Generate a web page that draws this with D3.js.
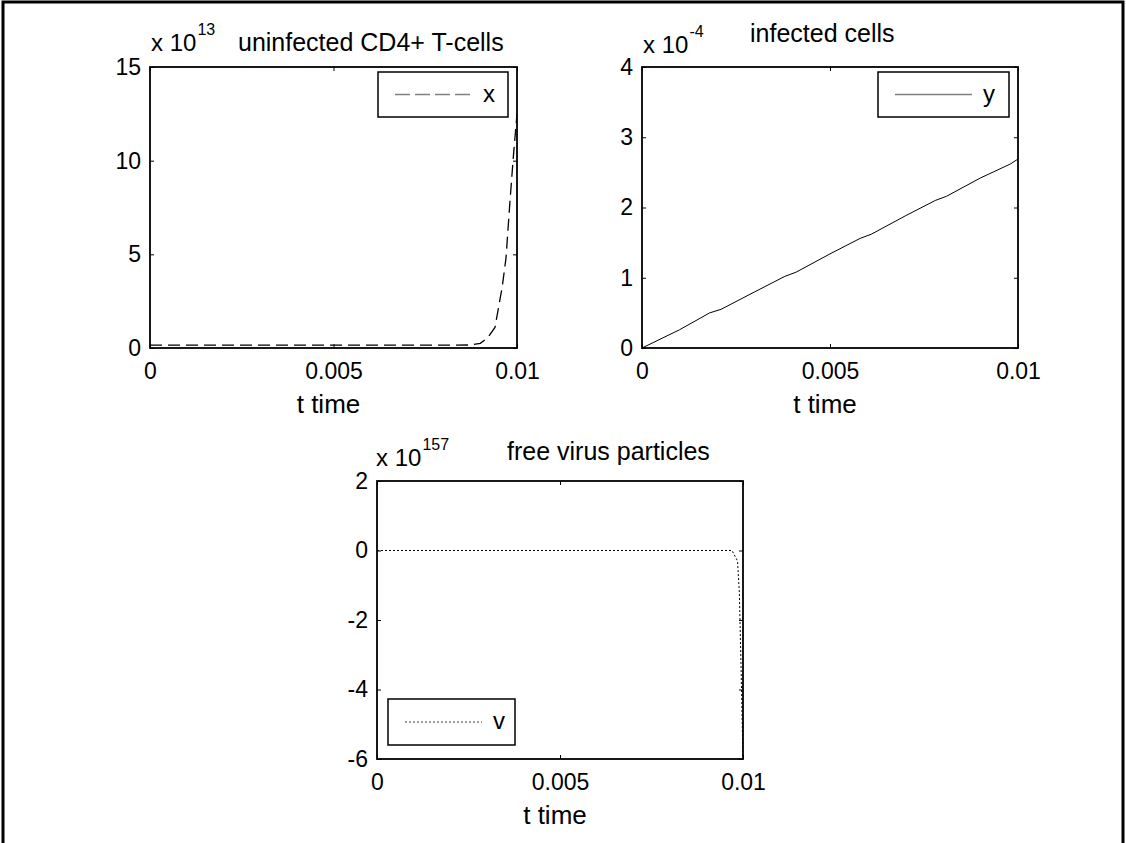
<html>
<head>
	<meta charset="utf-8">
	<title>HIV model</title>
	<script src="https://d3js.org/d3.v7.min.js"></script>
	<style type="text/css">
		body {
			margin: 0;
			padding: 0;
			background: #fff;
		}
		text {
			font-family: "Liberation Sans", Arial, sans-serif;
			fill: #000;
		}
	</style>
</head>
<body>

<svg id="fig" width="1126" height="843"></svg>

<script>

// time axis, shared by all three plots
var tTicks = [0, 0.005, 0.01];
var tTickLabels = ["0", "0.005", "0.01"];

// uninfected CD4+ T-cells (units of 10^13)
var xTicks = [0, 5, 10, 15];
var xT =    [0,   0.001, 0.002, 0.003, 0.004, 0.005, 0.006, 0.007, 0.008, 0.0087, 0.009, 0.0092, 0.0094, 0.0096, 0.0097, 0.0098, 0.0099, 0.01];
var xVals = [0.15, 0.15, 0.15,  0.15,  0.15,  0.15,  0.15,  0.15,  0.15,  0.16,   0.25,  0.55,   1.1,    3.3,    4.8,    7.6,    10.2,   12.5];

// infected cells (units of 10^-4)
var yTicks = [0, 1, 2, 3, 4];
var yT =    [0, 0.001, 0.0018, 0.0021, 0.003, 0.0038, 0.0041, 0.005, 0.0058, 0.0061, 0.007, 0.0078, 0.0081, 0.009, 0.0098, 0.01];
var yVals = [0, 0.26,  0.5,    0.55,   0.8,   1.02,   1.08,   1.34,  1.56,   1.62,   1.88,  2.1,    2.16,   2.42,  2.62,   2.69];

// free virus particles (units of 10^157)
var vTicks = [-6, -4, -2, 0, 2];
var vT =    [0, 0.002, 0.004, 0.006, 0.008, 0.0097, 0.00985, 0.0099, 0.00995, 0.01];
var vVals = [0, 0,     0,     0,     0,     0,      -0.3,    -1.2,   -3.5,    -6];

var svg = d3.select("#fig");

// outer figure frame (bottom is cut off in the original)
svg.append("path")
	.attr("d", "M3,843V2H1123V843")
	.attr("fill", "none")
	.attr("stroke", "#000")
	.attr("stroke-width", 3);

var panels = [
	{ l: 150, t: 67, r: 517, b: 348, ticks: xTicks, dom: [0, 15], tx: xT, vals: xVals,
	  dash: "12,6", title: "uninfected CD4+ T-cells", titleX: 238, titleY: 51,
	  expo: "13", expoX: 151, expoY: 51, name: "x",
	  leg: { x: 378, y: 72, w: 130, h: 45 } },
	{ l: 642, t: 67, r: 1018, b: 348, ticks: yTicks, dom: [0, 4], tx: yT, vals: yVals,
	  dash: null, title: "infected cells", titleX: 750, titleY: 42,
	  expo: "-4", expoX: 643, expoY: 53, name: "y",
	  leg: { x: 878, y: 72, w: 131, h: 45 } },
	{ l: 377, t: 481, r: 743, b: 759, ticks: vTicks, dom: [-6, 2], tx: vT, vals: vVals,
	  dash: "2,2", title: "free virus particles", titleX: 507, titleY: 460,
	  expo: "157", expoX: 376, expoY: 466, name: "v",
	  leg: { x: 388, y: 699, w: 127, h: 46 } }
];

panels.forEach(function(p) {
	var w = p.r - p.l, h = p.b - p.t;
	var x = d3.scaleLinear().domain([0, 0.01]).range([0, w]);
	var y = d3.scaleLinear().domain(p.dom).range([h, 0]);

	var g = svg.append("g").attr("transform", "translate(" + p.l + "," + p.t + ")");

	var clip = "clip-" + p.name;
	g.append("clipPath").attr("id", clip)
		.append("rect").attr("width", w).attr("height", h);

	// data line
	var line = d3.line()
		.x(function(d, i) { return x(p.tx[i]); })
		.y(function(d) { return y(d); });

	g.append("path")
		.datum(p.vals)
		.attr("d", line)
		.attr("clip-path", "url(#" + clip + ")")
		.attr("fill", "none")
		.attr("stroke", "#000")
		.attr("stroke-width", p.dash === "12,6" ? 1.3 : 1)
		.attr("stroke-dasharray", p.dash);

	// axes with inward ticks (matlab style, plain hyphen minus)
	var bottom = g.append("g").attr("transform", "translate(0," + h + ")")
		.call(d3.axisBottom(x).tickValues(tTicks)
			.tickFormat(function(d, i) { return tTickLabels[i]; })
			.tickSizeInner(-4).tickSizeOuter(0).tickPadding(15));
	var left = g.append("g")
		.call(d3.axisLeft(y).tickValues(p.ticks).tickFormat(function(d) { return String(d); })
			.tickSizeInner(-4).tickSizeOuter(0).tickPadding(9));
	var top = g.append("g")
		.call(d3.axisTop(x).tickValues(tTicks).tickFormat("")
			.tickSizeInner(-4).tickSizeOuter(0));
	var right = g.append("g").attr("transform", "translate(" + w + ",0)")
		.call(d3.axisRight(y).tickValues(p.ticks).tickFormat("")
			.tickSizeInner(-4).tickSizeOuter(0));

	[bottom, left, top, right].forEach(function(a) {
		a.select(".domain").remove();
		a.selectAll("line").attr("stroke", "#000");
		a.selectAll("text")
			.attr("fill", "#000")
			.style("font-family", "'Liberation Sans', Arial, sans-serif")
			.style("font-size", "23px");
	});

	// axes box
	g.append("rect")
		.attr("width", w).attr("height", h)
		.attr("fill", "none")
		.attr("stroke", "#000")
		.attr("stroke-width", 1.8);

	// x label
	g.append("text")
		.attr("x", w / 2 - 5).attr("y", h + 65)
		.attr("text-anchor", "middle")
		.style("font-size", "26px")
		.text("t time");

	// title
	svg.append("text")
		.attr("x", p.titleX).attr("y", p.titleY)
		.style("font-size", "25px")
		.text(p.title);

	// exponent label  x 10^n
	var ex = svg.append("text")
		.attr("x", p.expoX).attr("y", p.expoY)
		.style("font-size", "24px");
	ex.append("tspan").text("x 10");
	ex.append("tspan")
		.attr("dy", -16)
		.attr("dx", 1)
		.style("font-size", "16px")
		.text(p.expo);

	// legend
	var lg = svg.append("g").attr("transform", "translate(" + p.leg.x + "," + p.leg.y + ")");
	lg.append("rect")
		.attr("width", p.leg.w).attr("height", p.leg.h)
		.attr("fill", "#fff")
		.attr("stroke", "#000")
		.attr("stroke-width", 1.5);
	lg.append("line")
		.attr("x1", 17).attr("x2", 94)
		.attr("y1", p.leg.h / 2).attr("y2", p.leg.h / 2)
		.attr("stroke", "#808080")
		.attr("stroke-width", 1.5)
		.attr("stroke-dasharray", p.dash === "12,6" ? "15,5" : p.dash);
	lg.append("text")
		.attr("x", 105).attr("y", p.leg.h / 2 + 7)
		.style("font-size", "24px")
		.text(p.name);
});

</script>
</body>
</html>
